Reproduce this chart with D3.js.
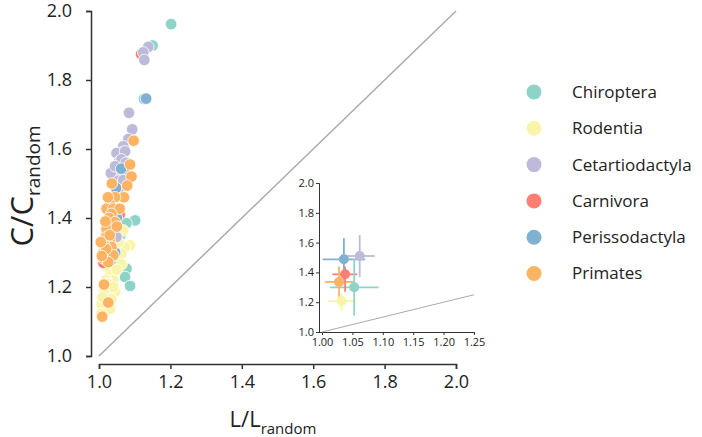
<!DOCTYPE html>
<html>
<head>
<meta charset="utf-8">
<script src="https://cdn.jsdelivr.net/npm/d3@7"></script>
<style>
  body { margin: 0; background: #fff; }
  text { font-family: "Open Sans", "Noto Sans", sans-serif; fill: #222; }
</style>
</head>
<body>
<div id="chart"></div>
<script>
// group names and colours (Set3)
var groups = ["Chiroptera", "Rodentia", "Cetartiodactyla", "Carnivora", "Perissodactyla", "Primates"];
var colors = ["#8dd3c7", "#f9f5a8", "#bebada", "#fb8072", "#80b1d3", "#fdb462"];

// species points: [L/Lrandom, C/Crandom]
var chiroptera = [[1.202,1.962],[1.150,1.90],[1.126,1.745],[1.101,1.393],[1.077,1.385],[1.054,1.311],
  [1.045,1.272],[1.077,1.253],[1.073,1.229],[1.087,1.203],[1.060,1.35],[1.05,1.42],[1.04,1.26]];
var rodentia = [[1.068,1.364],[1.087,1.321],[1.073,1.316],[1.063,1.297],[1.063,1.266],[1.031,1.239],
  [1.04,1.22],[1.026,1.186],[1.045,1.186],[1.007,1.152],[1.031,1.137],[1.007,1.123],[1.02,1.26],
  [1.015,1.19],[1.05,1.25],[1.035,1.165],[1.055,1.33],[1.02,1.22],[1.01,1.17],[1.025,1.21],[1.04,1.20]];
var carnivora = [[1.118,1.875],[1.04,1.46],[1.05,1.48],[1.06,1.52],[1.012,1.27],[1.03,1.43],
  [1.07,1.54],[1.02,1.35],[1.058,1.41]];
var cetartiodactyla = [[1.138,1.896],[1.124,1.88],[1.127,1.858],[1.084,1.705],[1.093,1.657],[1.082,1.629],
  [1.068,1.608],[1.063,1.59],[1.049,1.588],[1.073,1.593],[1.057,1.564],[1.063,1.57],[1.033,1.53],
  [1.068,1.523],[1.054,1.508],[1.068,1.51],[1.06,1.47],[1.049,1.345],[1.045,1.55],[1.075,1.56]];
var perissodactyla = [[1.132,1.746],[1.062,1.543],[1.048,1.487],[1.05,1.40],[1.045,1.30]];
var primates = [[1.097,1.624],[1.087,1.555],[1.091,1.52],[1.036,1.50],[1.079,1.494],[1.07,1.46],
  [1.045,1.46],[1.031,1.441],[1.021,1.427],[1.04,1.427],[1.058,1.427],[1.035,1.412],[1.028,1.40],
  [1.045,1.388],[1.021,1.369],[1.05,1.375],[1.021,1.345],[1.031,1.331],[1.012,1.30],[1.035,1.316],
  [1.04,1.292],[1.012,1.283],[1.026,1.272],[1.014,1.207],[1.026,1.155],[1.009,1.114],[1.015,1.32],
  [1.03,1.35],[1.02,1.31],[1.005,1.33],[1.008,1.29],[1.018,1.39],[1.025,1.46]];

// inset: group means with ranges (order = groups)
var meanL = [1.053, 1.032, 1.062, 1.038, 1.036, 1.028];
var meanC = [1.30, 1.208, 1.51, 1.387, 1.488, 1.336];
var lowL  = [1.013, 1.010, 1.038, 1.017, 1.001, 1.005];
var highL = [1.093, 1.053, 1.087, 1.058, 1.071, 1.052];
var lowC  = [1.11, 1.14, 1.37, 1.27, 1.35, 1.23];
var highC = [1.49, 1.26, 1.65, 1.44, 1.63, 1.44];

var mainTicks = [1.0, 1.2, 1.4, 1.6, 1.8, 2.0];
var insetXTicks = [1.00, 1.05, 1.10, 1.15, 1.20, 1.25];
var insetYTicks = [1.0, 1.2, 1.4, 1.6, 1.8, 2.0];

var width = 702, height = 437;

var svg = d3.select("#chart").append("svg")
  .attr("width", width)
  .attr("height", height);

// main scales
var x = d3.scaleLinear().domain([1, 2]).range([99, 456]);
var y = d3.scaleLinear().domain([1, 2]).range([356, 11]);

function styleAxis(g, size, sw) {
  g.selectAll("path").attr("stroke", "#333").attr("stroke-width", sw);
  g.selectAll("line").attr("stroke", "#333").attr("stroke-width", sw);
  g.selectAll("text").attr("font-size", size).attr("fill", "#222")
    .attr("font-family", "'Open Sans', 'Noto Sans', sans-serif");
}

var xAxis = svg.append("g").attr("transform", "translate(0,364)")
  .call(d3.axisBottom(x).tickValues(mainTicks).tickFormat(d3.format(".1f")).tickSizeOuter(0).tickSize(5).tickPadding(6));
styleAxis(xAxis, 18, 1.5);

var yAxis = svg.append("g").attr("transform", "translate(91,0)")
  .call(d3.axisLeft(y).tickValues(mainTicks).tickFormat(d3.format(".1f")).tickSizeOuter(0).tickSize(5).tickPadding(14));
styleAxis(yAxis, 18, 1.5);

// identity line
svg.append("line")
  .attr("x1", x(1)).attr("y1", y(1)).attr("x2", x(2)).attr("y2", y(2))
  .attr("stroke", "#aaa").attr("stroke-width", 1.5);

// scatter
var drawOrder = [
  [chiroptera, 0], [rodentia, 1], [carnivora, 3], [cetartiodactyla, 2], [perissodactyla, 4], [primates, 5]
];
drawOrder.forEach(function(p) {
  svg.append("g").selectAll("circle")
    .data(p[0])
    .enter().append("circle")
    .attr("cx", function(d) { return x(d[0]); })
    .attr("cy", function(d) { return y(d[1]); })
    .attr("r", 5.8)
    .attr("fill", colors[p[1]])
    .attr("stroke", "#fff")
    .attr("stroke-width", 0.8);
});

// axis titles
svg.append("text")
  .attr("transform", "translate(33,186) rotate(-90)")
  .attr("text-anchor", "middle")
  .attr("font-size", 31)
  .text("C/C")
  .append("tspan").attr("font-size", 19).attr("dy", 7).text("random");

svg.append("text")
  .attr("x", 273).attr("y", 427)
  .attr("text-anchor", "middle")
  .attr("font-size", 22)
  .text("L/L")
  .append("tspan").attr("font-size", 15).attr("dy", 7).text("random");

// inset
var ix = d3.scaleLinear().domain([1, 1.25]).range([322, 474]);
var iy = d3.scaleLinear().domain([1, 2]).range([332, 183]);

var ixAxis = svg.append("g").attr("transform", "translate(0,332)")
  .call(d3.axisBottom(ix).tickValues(insetXTicks).tickFormat(d3.format(".2f")).tickSizeOuter(0).tickSize(3).tickPadding(3));
styleAxis(ixAxis, 11, 1);
ixAxis.select("path").attr("d", "M" + (ix(1) - 3) + ",0.5H" + ix(1.25));

var iyAxis = svg.append("g").attr("transform", "translate(319,0)")
  .call(d3.axisLeft(iy).tickValues(insetYTicks).tickFormat(d3.format(".1f")).tickSizeOuter(0).tickSize(3).tickPadding(2));
styleAxis(iyAxis, 11, 1);

svg.append("line")
  .attr("x1", ix(1)).attr("y1", iy(1)).attr("x2", ix(1.25)).attr("y2", iy(1.25))
  .attr("stroke", "#aaa").attr("stroke-width", 1);

var inset = svg.append("g");
var idx = d3.range(groups.length);
inset.selectAll(".hbar").data(idx).enter().append("line")
  .attr("x1", function(i) { return ix(lowL[i]); })
  .attr("x2", function(i) { return ix(highL[i]); })
  .attr("y1", function(i) { return iy(meanC[i]); })
  .attr("y2", function(i) { return iy(meanC[i]); })
  .attr("stroke", function(i) { return colors[i]; })
  .attr("stroke-width", 1.8);
inset.selectAll(".vbar").data(idx).enter().append("line")
  .attr("x1", function(i) { return ix(meanL[i]); })
  .attr("x2", function(i) { return ix(meanL[i]); })
  .attr("y1", function(i) { return iy(lowC[i]); })
  .attr("y2", function(i) { return iy(highC[i]); })
  .attr("stroke", function(i) { return colors[i]; })
  .attr("stroke-width", 1.8);
inset.selectAll("circle").data(idx).enter().append("circle")
  .attr("cx", function(i) { return ix(meanL[i]); })
  .attr("cy", function(i) { return iy(meanC[i]); })
  .attr("r", 5)
  .attr("fill", function(i) { return colors[i]; });

// legend
var legend = svg.append("g").selectAll("g")
  .data(groups).enter().append("g")
  .attr("transform", function(d, i) { return "translate(534," + (92 + i * 36.3) + ")"; });
legend.append("circle").attr("r", 7.5).attr("fill", function(d, i) { return colors[i]; });
legend.append("text").attr("x", 38).attr("dy", "0.35em")
  .attr("font-size", 17).text(function(d) { return d; });
</script>
</body>
</html>
